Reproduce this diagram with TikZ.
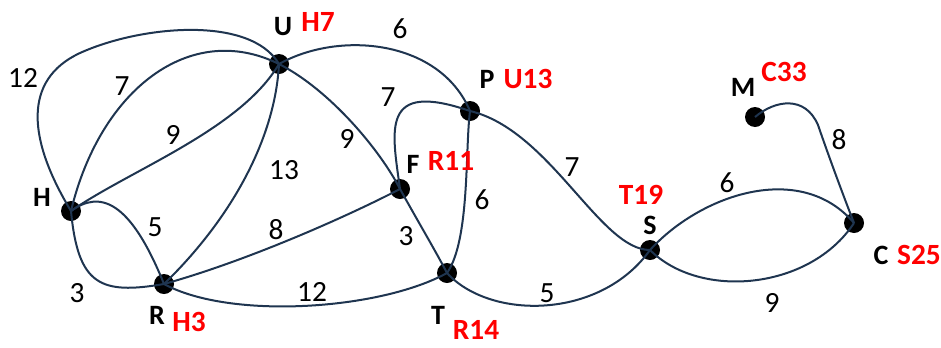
\documentclass[tikz,border=0pt]{standalone}
\usepackage{fontspec}
\setmainfont{Carlito}
\definecolor{edgecol}{HTML}{1F3550}
\definecolor{redlab}{HTML}{FF0000}
\tikzset{
  vertex/.style={circle,fill=black,inner sep=0pt,minimum size=15pt},
  edge/.style={draw=edgecol,line width=1.5pt},
  wlab/.style={font=\fontsize{22}{22}\selectfont,inner sep=0pt},
  nlab/.style={font=\fontsize{21}{21}\selectfont\bfseries,inner sep=0pt},
  rlab/.style={font=\fontsize{22}{22}\selectfont\bfseries,text=redlab,inner sep=0pt}
}
\begin{document}
\begin{tikzpicture}[x=0.75pt,y=-0.75pt]
\useasboundingbox (0,0) rectangle (941,347);
% vertices
\node[vertex] (H) at (71,211) {};
\node[vertex] (R) at (164,284) {};
\node[vertex] (U) at (279,64) {};
\node[vertex] (F) at (400,189) {};
\node[vertex] (P) at (470,111) {};
\node[vertex] (T) at (447,273) {};
\node[vertex] (S) at (650,250) {};
\node[vertex] (C) at (854,223) {};
\node[vertex] (M) at (755,117) {};
% edges
\path[edge] (H.center) .. controls (28,140) and (22,80) .. (80,53) .. controls (140,25.7) and (250,15) .. (U.center);
\path[edge] (H.center) .. controls (100,90) and (190,20) .. (U.center);
\path[edge] (H.center) .. controls (130,170) and (240,130) .. (U.center);
\path[edge] (R.center) .. controls (230,220) and (275,140) .. (U.center);
\path[edge] (H.center) .. controls (100,190) and (130,200) .. (R.center);
\path[edge] (H.center) .. controls (78,285) and (100,295) .. (R.center);
\path[edge] (R.center) .. controls (250,260) and (350,215) .. (F.center);
\path[edge] (R.center) .. controls (230,320) and (380,310) .. (T.center);
\path[edge] (U.center) .. controls (330,90) and (380,150) .. (F.center);
\path[edge] (F.center) .. controls (420,225) and (435,250) .. (T.center);
\path[edge] (U.center) .. controls (340,30) and (440,40) .. (P.center);
\path[edge] (P.center) .. controls (380,80) and (392,130) .. (F.center);
\path[edge] (P.center) .. controls (465,150) and (470,240) .. (T.center);
\path[edge] (P.center) .. controls (550,130) and (600,250) .. (S.center);
\path[edge] (T.center) .. controls (490,320) and (600,320) .. (S.center);
\path[edge] (S.center) .. controls (700,195) and (800,160) .. (C.center);
\path[edge] (S.center) .. controls (700,300) and (810,290) .. (C.center);
\path[edge] (M.center) .. controls (775,100) and (805,95) .. (818,125) .. controls (830,160) and (845,200) .. (C.center);
% weights
\node[wlab] (w1) at (23,78) {12};
\node[wlab] (w2) at (122,86) {7};
\node[wlab] (w3) at (173,135) {9};
\node[wlab] (w4) at (284,170) {13};
\node[wlab] (w5) at (155,227) {5};
\node[wlab] (w6) at (77,293) {3};
\node[wlab] (w7) at (276,230) {8};
\node[wlab] (w8) at (312,292) {12};
\node[wlab] (w9) at (400,29) {6};
\node[wlab] (w10) at (388,97) {7};
\node[wlab] (w11) at (347,139) {9};
\node[wlab] (w12) at (482,200) {6};
\node[wlab] (w13) at (406,236) {3};
\node[wlab] (w14) at (572,167) {7};
\node[wlab] (w15) at (547,293) {5};
\node[wlab] (w16) at (727,183) {6};
\node[wlab] (w17) at (772,303) {9};
\node[wlab] (w18) at (839,140) {8};
% names
\node[nlab] (lH) at (42,197) {H};
\node[nlab] (lR) at (157,315) {R};
\node[nlab] (lU) at (283,27) {U};
\node[nlab] (lF) at (413,164) {F};
\node[nlab] (lP) at (487,79) {P};
\node[nlab] (lT) at (438,315) {T};
\node[nlab] (lS) at (650,225) {S};
\node[nlab] (lC) at (881,255) {C};
\node[nlab] (lM) at (743,87) {M};
% red labels
\node[rlab] (rU) at (318,22) {H7};
\node[rlab] (rR) at (189,322) {H3};
\node[rlab] (rF) at (451,161) {R11};
\node[rlab] (rP) at (528,79) {U13};
\node[rlab] (rT) at (476,330) {R14};
\node[rlab] (rS) at (641,195) {T19};
\node[rlab] (rC) at (919,255) {S25};
\node[rlab] (rM) at (784,72) {C33};
\end{tikzpicture}
\end{document}
